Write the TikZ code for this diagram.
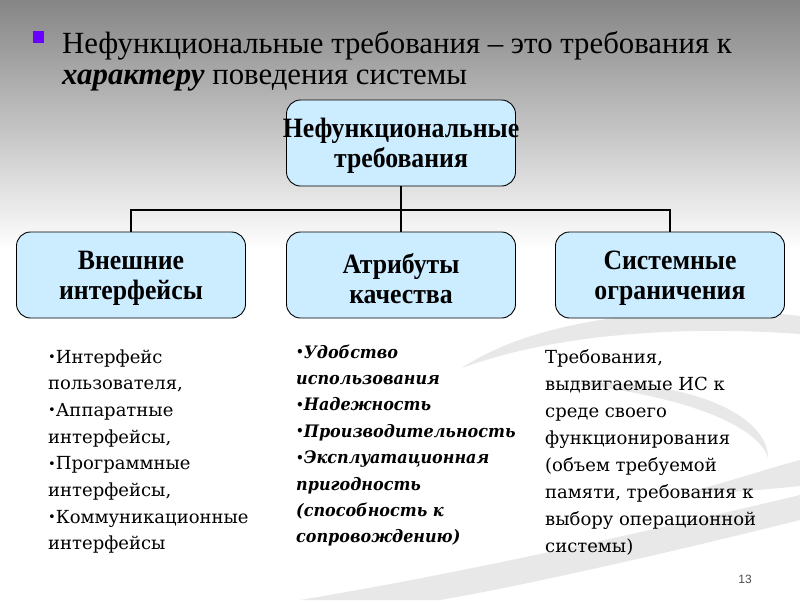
\documentclass[tikz,border=0pt]{standalone}
\usepackage{fontspec}
\setmainfont{DejaVu Serif}
\newfontfamily\titlefont{Liberation Serif}
\newfontfamily\boxfont[FakeStretch=0.92]{Liberation Serif}
\newfontfamily\listfont{DejaVu Serif}
\newfontfamily\midfont[FakeStretch=0.93]{DejaVu Serif}
\newfontfamily\numfont{Liberation Sans}
\definecolor{boxblue}{HTML}{CCECFF}
\definecolor{bulsq}{HTML}{6A00FF}
\definecolor{swoosh}{HTML}{E8E8E8}
\definecolor{bgtop}{HTML}{858585}
\newcommand\lbul{\raisebox{1.5pt}{\fontsize{13}{13}\selectfont •}}
\tikzset{
  box/.style={draw=black, line width=0.9pt, fill=boxblue, rounded corners=14pt,
    minimum width=229pt, minimum height=86pt, inner sep=0pt},
  boxtext/.style={inner sep=0pt, align=center,
    font=\boxfont\bfseries\fontsize{28}{30}\selectfont},
  conn/.style={draw=black, line width=1.8pt},
  lline/.style={anchor=base west, inner sep=0pt, font=\listfont\fontsize{18}{20}\selectfont},
  mline/.style={anchor=base west, inner sep=0pt, font=\midfont\bfseries\itshape\fontsize{17.2}{20}\selectfont},
  tline/.style={anchor=base west, inner sep=0pt, font=\titlefont\fontsize{30.8}{32}\selectfont},
}
\begin{document}
\begin{tikzpicture}[x=1pt, y=-1pt]
\useasboundingbox (0,0) rectangle (800,600);
% background
\fill[white] (0,0) rectangle (800,600);
\shade[top color=bgtop, bottom color=white] (0,0) rectangle (800,250);
% swooshes
\fill[swoosh] (462,368) .. controls (540,315) and (690,303) .. (800,316) -- (800,334) .. controls (690,326) and (560,332) .. (462,368) -- cycle;
\fill[swoosh] (570,383) .. controls (690,378) and (768,415) .. (768,458) .. controls (760,430) and (700,398) .. (570,383) -- cycle;
\fill[swoosh] (690,492) .. controls (740,478) and (770,468) .. (800,460) -- (800,486) .. controls (760,490) and (720,494) .. (690,492) -- cycle;
\fill[swoosh] (300,600) .. controls (450,575) and (620,538) .. (800,495) -- (800,520) .. controls (640,560) and (500,590) .. (440,600) -- cycle;
% title
\fill[bulsq] (33,31) rectangle (44,43);
\node[tline] (t1) at (62,53) {Нефункциональные требования – это требования к};
\node[tline] (t2) at (62,84) {\textbf{\textit{характеру}} поведения системы};
% boxes
\node[box] (top) at (401,143) {};
\node[box] (b1) at (131,275) {};
\node[box] (b2) at (401,275) {};
\node[box] (b3) at (670,275) {};
\node[boxtext] (topt) at ([yshift=-3pt]top.center) {Нефункциональные\\требования};
\node[boxtext] (b1t) at ([yshift=-3.5pt]b1.center) {Внешние\\интерфейсы};
\node[boxtext] (b2t) at ([yshift=-3.5pt]b2.center) {Атрибуты\\качества};
\node[boxtext] (b3t) at ([yshift=-3.5pt]b3.center) {Системные\\ограничения};
\coordinate (bus) at (401,210);
\draw[conn] (top.south) -- (b2.north);
\draw[conn] (b1.north) -- (b1.north |- bus) -- (b3.north |- bus) -- (b3.north);
% left list
\foreach \t [count=\i] in {{\lbul Интерфейс}, {пользователя,}, {\lbul Аппаратные}, {интерфейсы,}, {\lbul Программные}, {интерфейсы,}, {\lbul Коммуникационные}, {интерфейсы}}
  \node[lline] (l\i) at (48,{363+26.7*(\i-1)}) {\t};
% middle list
\foreach \t [count=\i] in {{\lbul Удобство}, {использования}, {\lbul Надежность}, {\lbul Производительность}, {\lbul Эксплуатационная}, {пригодность}, {(способность к}, {сопровождению)}}
  \node[mline] (m\i) at (296,{358+26.4*(\i-1)}) {\t};
% right text
\foreach \t [count=\i] in {{Требования,}, {выдвигаемые ИС к}, {среде своего}, {функционирования}, {(объем требуемой}, {памяти, требования к}, {выбору операционной}, {системы)}}
  \node[lline] (r\i) at (545,{363+27*(\i-1)}) {\t};
\node[anchor=base east, inner sep=0pt, text=black!70, font=\numfont\fontsize{12}{12}\selectfont] (num) at (752,583) {13};
\end{tikzpicture}
\end{document}
